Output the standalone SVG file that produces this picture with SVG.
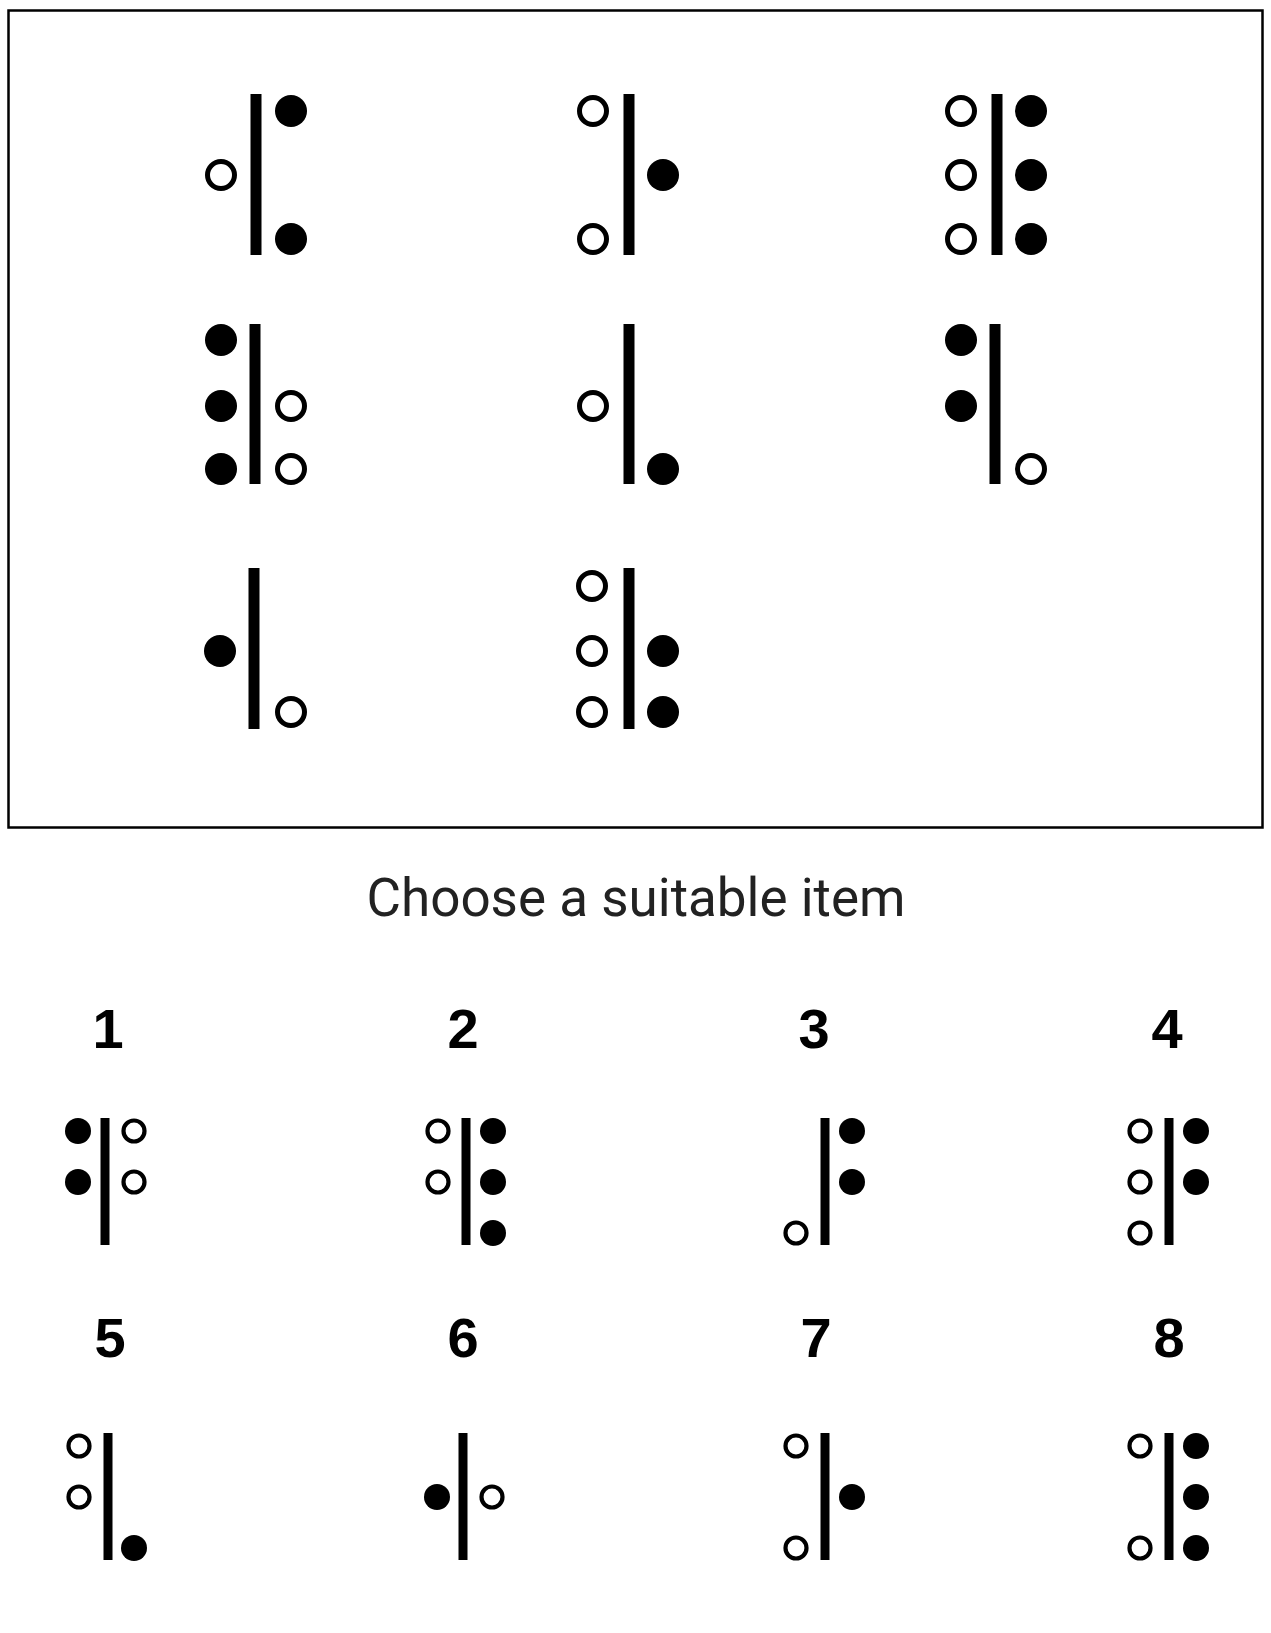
<svg xmlns="http://www.w3.org/2000/svg" width="1271" height="1633" viewBox="0 0 1271 1633">
<style>
.bar{fill:#000}
.pf{fill:#000}
.po{fill:#fff;stroke:#000;stroke-width:5}
.af{fill:#000}
.ao{fill:#fff;stroke:#000;stroke-width:4.2}
.num{font-family:"Liberation Sans",Arial,sans-serif;font-weight:bold;font-size:56px;fill:#000;text-anchor:middle}
.title{font-family:Roboto,"Noto Sans",sans-serif;font-size:53px;fill:#222;text-anchor:middle}
</style>
<rect width="1271" height="1633" fill="#fff"/>
<rect id="frame" x="8.5" y="10.5" width="1254" height="817" fill="none" stroke="#000" stroke-width="2.5"/>

<g id="cell-r1c1">
<rect class="bar" x="250.5" y="94" width="11" height="161"/>
<circle class="po" cx="221" cy="175" r="13.5"/>
<circle class="pf" cx="291" cy="111" r="16"/>
<circle class="pf" cx="291" cy="239" r="16"/>
</g>
<g id="cell-r1c2">
<rect class="bar" x="623.5" y="94" width="11" height="161"/>
<circle class="po" cx="593" cy="111" r="13.5"/>
<circle class="po" cx="593" cy="239" r="13.5"/>
<circle class="pf" cx="663" cy="175" r="16"/>
</g>
<g id="cell-r1c3">
<rect class="bar" x="991.5" y="94" width="11" height="161"/>
<circle class="po" cx="961" cy="111" r="13.5"/>
<circle class="po" cx="961" cy="175" r="13.5"/>
<circle class="po" cx="961" cy="239" r="13.5"/>
<circle class="pf" cx="1031" cy="111" r="16"/>
<circle class="pf" cx="1031" cy="175" r="16"/>
<circle class="pf" cx="1031" cy="239" r="16"/>
</g>

<g id="cell-r2c1">
<rect class="bar" x="249.5" y="324" width="11" height="160"/>
<circle class="pf" cx="221" cy="340" r="16"/>
<circle class="pf" cx="221" cy="406" r="16"/>
<circle class="pf" cx="221" cy="469" r="16"/>
<circle class="po" cx="291" cy="406" r="13.5"/>
<circle class="po" cx="291" cy="469" r="13.5"/>
</g>
<g id="cell-r2c2">
<rect class="bar" x="623.5" y="324" width="11" height="160"/>
<circle class="po" cx="593" cy="406" r="13.5"/>
<circle class="pf" cx="663" cy="469" r="16"/>
</g>
<g id="cell-r2c3">
<rect class="bar" x="989.5" y="324" width="11" height="160"/>
<circle class="pf" cx="961" cy="340" r="16"/>
<circle class="pf" cx="961" cy="406" r="16"/>
<circle class="po" cx="1031" cy="469" r="13.5"/>
</g>

<g id="cell-r3c1">
<rect class="bar" x="248.5" y="568" width="11" height="161"/>
<circle class="pf" cx="220" cy="651" r="16"/>
<circle class="po" cx="291" cy="712" r="13.5"/>
</g>
<g id="cell-r3c2">
<rect class="bar" x="623.5" y="568" width="11" height="161"/>
<circle class="po" cx="592" cy="586" r="13.5"/>
<circle class="po" cx="592" cy="651" r="13.5"/>
<circle class="po" cx="592" cy="712" r="13.5"/>
<circle class="pf" cx="663" cy="651" r="16"/>
<circle class="pf" cx="663" cy="712" r="16"/>
</g>

<text id="title" class="title" x="636" y="916">Choose a suitable item</text>

<g id="option-1">
<text class="num" x="108" y="1048">1</text>
<rect class="bar" x="100.5" y="1118" width="9" height="127"/>
<circle class="af" cx="78" cy="1131" r="13"/>
<circle class="af" cx="78" cy="1182" r="13"/>
<circle class="ao" cx="134" cy="1131" r="10.5"/>
<circle class="ao" cx="134" cy="1182" r="10.5"/>
</g>
<g id="option-2">
<text class="num" x="463" y="1048">2</text>
<rect class="bar" x="461.5" y="1118" width="9" height="127"/>
<circle class="ao" cx="438" cy="1131" r="10.5"/>
<circle class="ao" cx="438" cy="1182" r="10.5"/>
<circle class="af" cx="493" cy="1131" r="13"/>
<circle class="af" cx="493" cy="1182" r="13"/>
<circle class="af" cx="493" cy="1233" r="13"/>
</g>
<g id="option-3">
<text class="num" x="814" y="1048">3</text>
<rect class="bar" x="820.5" y="1118" width="9" height="127"/>
<circle class="ao" cx="796" cy="1233" r="10.5"/>
<circle class="af" cx="852" cy="1131" r="13"/>
<circle class="af" cx="852" cy="1182" r="13"/>
</g>
<g id="option-4">
<text class="num" x="1167" y="1048">4</text>
<rect class="bar" x="1164.5" y="1118" width="9" height="127"/>
<circle class="ao" cx="1140" cy="1131" r="10.5"/>
<circle class="ao" cx="1140" cy="1182" r="10.5"/>
<circle class="ao" cx="1140" cy="1233" r="10.5"/>
<circle class="af" cx="1196" cy="1131" r="13"/>
<circle class="af" cx="1196" cy="1182" r="13"/>
</g>

<g id="option-5">
<text class="num" x="110" y="1357">5</text>
<rect class="bar" x="103.5" y="1433" width="9" height="127"/>
<circle class="ao" cx="79" cy="1446" r="10.5"/>
<circle class="ao" cx="79" cy="1497" r="10.5"/>
<circle class="af" cx="134" cy="1548" r="13"/>
</g>
<g id="option-6">
<text class="num" x="463" y="1357">6</text>
<rect class="bar" x="458.5" y="1433" width="9" height="127"/>
<circle class="af" cx="437" cy="1497" r="13"/>
<circle class="ao" cx="492" cy="1497" r="10.5"/>
</g>
<g id="option-7">
<text class="num" x="816" y="1357">7</text>
<rect class="bar" x="820.5" y="1433" width="9" height="127"/>
<circle class="ao" cx="796" cy="1446" r="10.5"/>
<circle class="ao" cx="796" cy="1548" r="10.5"/>
<circle class="af" cx="852" cy="1497" r="13"/>
</g>
<g id="option-8">
<text class="num" x="1169" y="1357">8</text>
<rect class="bar" x="1164.5" y="1433" width="9" height="127"/>
<circle class="ao" cx="1140" cy="1446" r="10.5"/>
<circle class="ao" cx="1140" cy="1548" r="10.5"/>
<circle class="af" cx="1196" cy="1446" r="13"/>
<circle class="af" cx="1196" cy="1497" r="13"/>
<circle class="af" cx="1196" cy="1548" r="13"/>
</g>
</svg>
